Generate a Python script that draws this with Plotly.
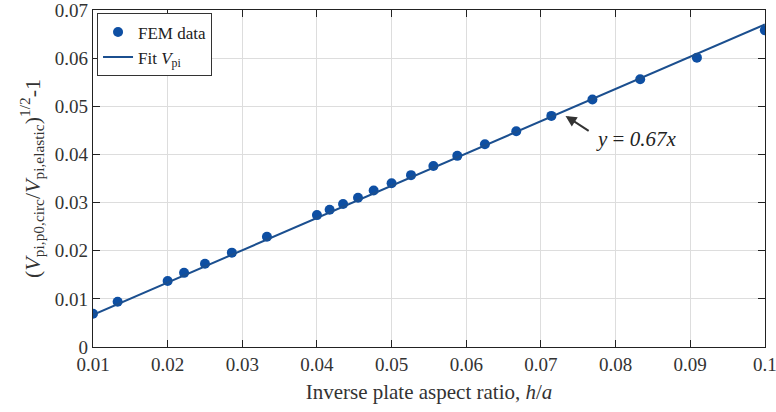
import plotly.graph_objects as go

# Data
fem_x = [0.01, 0.0133, 0.02, 0.0222, 0.025, 0.0286, 0.0333, 0.04, 0.0417, 0.0435,
         0.0455, 0.0476, 0.05, 0.0526, 0.0556, 0.0588, 0.0625, 0.0667, 0.0714,
         0.0769, 0.0833, 0.0909, 0.1]
fem_y = [0.0069, 0.0094, 0.0137, 0.0154, 0.0173, 0.0196, 0.0229, 0.0274, 0.0285, 0.0297,
         0.0310, 0.0325, 0.0340, 0.0357, 0.0376, 0.0397, 0.0421, 0.0448, 0.0480,
         0.0514, 0.0556, 0.0601, 0.0658]
fit_x = [0.01, 0.1]
fit_y = [0.0067, 0.067]

x_ticks = [0.01, 0.02, 0.03, 0.04, 0.05, 0.06, 0.07, 0.08, 0.09, 0.1]
x_ticktext = ["0.01", "0.02", "0.03", "0.04", "0.05", "0.06", "0.07", "0.08", "0.09", "0.1"]
y_ticks = [0, 0.01, 0.02, 0.03, 0.04, 0.05, 0.06, 0.07]
y_ticktext = ["0", "0.01", "0.02", "0.03", "0.04", "0.05", "0.06", "0.07"]

blue = "#0E4FA3"
line_blue = "#1B4F8F"
FONT = "Liberation Serif"

fig = go.Figure()
fig.add_trace(go.Scatter(x=fem_x, y=fem_y, mode="markers", name="FEM data",
                         marker=dict(color=blue, size=10, line=dict(width=0))))
fig.add_trace(go.Scatter(x=fit_x, y=fit_y, mode="lines", name="Fit <i>V</i><sub>pi</sub>",
                         line=dict(color=line_blue, width=2)))

axis_common = dict(showline=True, linecolor="#222", linewidth=1.2, mirror="ticks",
                   ticks="inside", ticklen=7, tickwidth=1.2, tickcolor="#222",
                   showgrid=True, gridcolor="#DDDDDD", gridwidth=1, zeroline=False,
                   ticklabeloverflow="allow", automargin=False,
                   tickfont=dict(family=FONT, size=19, color="#333"))

fig.update_xaxes(range=[0.01, 0.10002], tickvals=x_ticks, ticktext=x_ticktext,
                 title=dict(text="Inverse plate aspect ratio, <i>h</i>/<i>a</i>",
                            font=dict(family=FONT, size=21, color="#333"), standoff=10),
                 **axis_common)
fig.update_yaxes(range=[0, 0.07], tickvals=y_ticks, ticktext=y_ticktext,
                 title=dict(text="(<i>V</i><sub>pi,p0,circ</sub>/<i>V</i><sub>pi,elastic</sub>)<sup>1/2</sup>-1",
                            font=dict(family=FONT, size=22, color="#333"), standoff=8),
                 **axis_common)

fig.add_annotation(x=0.0733, y=0.0480, xref="x", yref="y",
                   ax=0.0766, ay=0.0447, axref="x", ayref="y",
                   text="", showarrow=True, arrowhead=2, arrowsize=1.1,
                   arrowwidth=2, arrowcolor="#333")
fig.add_annotation(x=0.0771, y=0.0433, xref="x", yref="y", xanchor="left",
                   text="<i>y</i> = <i>0.67x</i>", showarrow=False,
                   font=dict(family=FONT, size=21, color="#222"))

fig.update_layout(width=776, height=412,
                  margin=dict(l=93, r=11, t=10, b=65),
                  plot_bgcolor="white", paper_bgcolor="white",
                  legend=dict(x=0.006, y=0.99, xanchor="left", yanchor="top",
                              bgcolor="white", bordercolor="#333", borderwidth=1,
                              font=dict(family=FONT, size=17, color="#222"),
                              tracegroupgap=0, itemwidth=30))

fig.write_html("out.html")
